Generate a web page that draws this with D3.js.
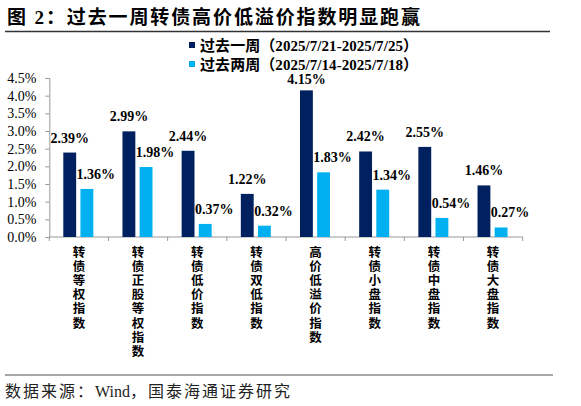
<!DOCTYPE html>
<html>
<head>
<meta charset="utf-8">
<script src="https://cdn.jsdelivr.net/npm/d3@7"></script>
<style>
  body { margin: 0; background: #fff; }
  text { font-family: "Liberation Serif", "Noto Sans CJK SC", serif; }
</style>
</head>
<body>
<div id="chart"></div>
<script>
var categories = ["转债等权指数", "转债正股等权指数", "转债低价指数", "转债双低指数",
                  "高价低溢价指数", "转债小盘指数", "转债中盘指数", "转债大盘指数"];
var lastWeek = [2.39, 2.99, 2.44, 1.22, 4.15, 2.42, 2.55, 1.46];
var lastTwoWeeks = [1.36, 1.98, 0.37, 0.32, 1.83, 1.34, 0.54, 0.27];
var seriesNames = ["过去一周（2025/7/21-2025/7/25）", "过去两周（2025/7/14-2025/7/18）"];
var yTicks = [0, 0.5, 1.0, 1.5, 2.0, 2.5, 3.0, 3.5, 4.0, 4.5];

var width = 581, height = 406;
var colors = ["#002060", "#00B0F0"];

var svg = d3.select('#chart').append('svg')
    .attr('width', width)
    .attr('height', height);

// title + rule
svg.append('text')
    .attr('x', 7).attr('y', 24)
    .attr('font-size', 19).attr('font-weight', 'bold')
    .attr('textLength', 413).attr('lengthAdjust', 'spacing')
    .text('图 2：过去一周转债高价低溢价指数明显跑赢');
svg.append('line')
    .attr('x1', 5).attr('x2', 550).attr('y1', 31.5).attr('y2', 31.5)
    .attr('stroke', '#333').attr('stroke-width', 1.3);

// legend
var legend = svg.selectAll('.legend')
    .data(seriesNames)
    .enter().append('g')
    .attr('class', 'legend')
    .attr('transform', function(d, i) { return 'translate(189,' + (45 + i * 19) + ')'; });
legend.append('rect')
    .attr('x', 0).attr('y', -3).attr('width', 6).attr('height', 6)
    .attr('fill', function(d, i) { return colors[i]; });
legend.append('text')
    .attr('x', 11).attr('y', 5.5)
    .attr('font-size', 15).attr('font-weight', 'bold')
    .attr('textLength', 218).attr('lengthAdjust', 'spacing')
    .text(function(d) { return d; });

// scales
var x = d3.scaleBand().domain(categories).range([49.3, 522.7]);
var sub = d3.scaleBand().domain([0, 1]).range([14, 44]).paddingInner(0.25);
var y = d3.scaleLinear().domain([0, 4.5]).range([237, 78]);

// y axis
var yAxis = svg.append('g')
    .attr('transform', 'translate(49.3,0)')
    .call(d3.axisLeft(y).tickValues(yTicks).tickSize(4).tickPadding(9)
        .tickFormat(function(d) { return d.toFixed(1) + '%'; }));
yAxis.select('.domain').attr('stroke', '#999');
yAxis.selectAll('.tick line').attr('stroke', '#999');
yAxis.selectAll('.tick text')
    .attr('font-family', '"Liberation Serif", serif')
    .attr('font-size', 14).attr('fill', '#000');

// x axis: ticks at category boundaries
var xAxis = svg.append('g').attr('class', 'xaxis');
xAxis.append('line')
    .attr('x1', x.range()[0]).attr('x2', x.range()[1])
    .attr('y1', y(0)).attr('y2', y(0))
    .attr('stroke', '#999');
var bounds = categories.map(function(c) { return x(c); }).concat([x.range()[1]]);
xAxis.selectAll('.tk')
    .data(bounds)
    .enter().append('line')
    .attr('x1', function(d) { return d; }).attr('x2', function(d) { return d; })
    .attr('y1', y(0)).attr('y2', y(0) + 4)
    .attr('stroke', '#999');

// vertical category labels
var catG = svg.selectAll('.cat')
    .data(categories)
    .enter().append('g')
    .attr('class', 'cat')
    .attr('transform', function(d) { return 'translate(' + (x(d) + x.bandwidth() / 2) + ',0)'; });
catG.selectAll('text')
    .data(function(d) { return d.split(''); })
    .enter().append('text')
    .attr('x', 0)
    .attr('y', function(d, i) { return 252.7 + i * 14.1; })
    .attr('dy', '0.35em')
    .attr('text-anchor', 'middle')
    .attr('font-size', 12.5).attr('font-weight', 'bold')
    .text(function(d) { return d; });

// bars
var series = [lastWeek, lastTwoWeeks];
series.forEach(function(vals, s) {
    svg.selectAll('.bar' + s)
        .data(vals)
        .enter().append('rect')
        .attr('class', 'bar' + s)
        .attr('x', function(d, i) { return x(categories[i]) + sub(s); })
        .attr('y', function(d) { return y(d); })
        .attr('width', sub.bandwidth())
        .attr('height', function(d) { return y(0) - y(d); })
        .attr('fill', colors[s]);

    // labels sit ~10px above the bar, but not into the legend
    svg.selectAll('.lbl' + s)
        .data(vals)
        .enter().append('text')
        .attr('class', 'lbl' + s)
        .attr('x', function(d, i) { return x(categories[i]) + sub(s) + sub.bandwidth() / 2 + (s ? 9 : 0); })
        .attr('y', function(d) { return Math.max(y(d) - 10, 84); })
        .attr('text-anchor', 'middle')
        .attr('font-family', '"Liberation Serif", serif')
        .attr('font-size', 14).attr('font-weight', 'bold')
        .text(function(d) { return d.toFixed(2) + '%'; });
});

// source
svg.append('line')
    .attr('x1', 5).attr('x2', 553).attr('y1', 375).attr('y2', 375)
    .attr('stroke', '#888').attr('stroke-width', 1.5);
var src = svg.append('text')
    .attr('x', 5).attr('y', 397)
    .attr('font-size', 16).attr('fill', '#222');
src.append('tspan').attr('letter-spacing', 2).text('数据来源：');
src.append('tspan').text('Wind');
src.append('tspan').attr('letter-spacing', 2).text('，国泰海通证券研究');
</script>
</body>
</html>
